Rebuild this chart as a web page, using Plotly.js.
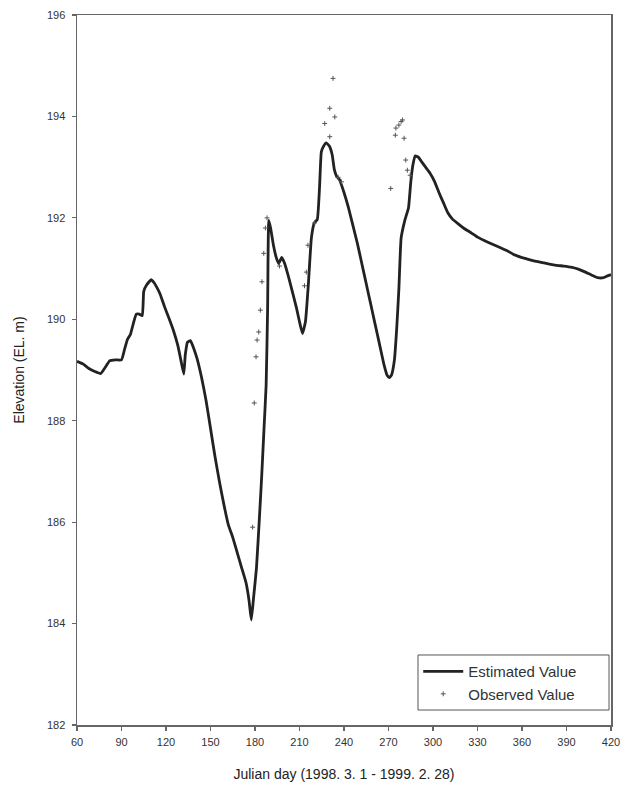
<!DOCTYPE html>
<html>
<head>
<meta charset="utf-8">
<script src="https://cdn.plot.ly/plotly-3.0.1.min.js"></script>
<style>
  html, body { margin: 0; padding: 0; background: #fff; }
  #chart { width: 627px; height: 786px; }
</style>
</head>
<body>
<div id="chart"></div>
<script>
// Reservoir water level, 1998-03-01 to 1999-02-28 (Julian day)
const estDays = [60, 64, 68, 72, 76, 79, 82, 86, 90, 92, 94, 96, 98, 100, 102, 104, 105, 107, 110, 112,
  114, 116, 119, 122, 125, 128, 130, 132, 133, 134.5, 136.5, 139, 141, 144, 147, 150, 153, 156, 159, 162,
  165, 168, 171, 174, 176, 177.5, 179, 181, 183, 184.5, 186, 187.5, 188.5, 189.3, 190.5, 192.5, 194.5, 196, 198, 200,
  202, 204, 206, 208, 210, 212, 214, 216, 218, 220, 222, 223.5, 224.7, 226, 228, 230, 232, 233.5, 235, 237,
  240, 243, 246, 249, 252, 255, 258, 261, 264, 267, 269, 270.5, 272, 274, 275.5, 277, 278.5, 281, 283.5, 285,
  286.5, 288, 290, 292, 295, 298, 301, 304, 307, 310, 313, 317, 321, 326, 330, 337, 344, 350, 355, 362,
  368, 375, 382, 388, 393, 398, 402, 407, 411, 415, 418, 420];
const estElev = [189.17, 189.12, 189.03, 188.97, 188.93, 189.05, 189.18, 189.2, 189.2, 189.4, 189.6, 189.7, 189.92, 190.1, 190.1, 190.07, 190.55, 190.68, 190.78, 190.72,
  190.62, 190.5, 190.25, 190.02, 189.78, 189.48, 189.2, 188.92, 189.3, 189.55, 189.58, 189.4, 189.22, 188.85, 188.4, 187.85, 187.3, 186.8, 186.35, 185.95,
  185.7, 185.4, 185.1, 184.8, 184.45, 184.07, 184.5, 185.1, 186.1, 186.9, 187.8, 188.7, 190.2, 191.95, 191.8, 191.45, 191.2, 191.1, 191.22, 191.1,
  190.9, 190.68, 190.45, 190.22, 189.95, 189.72, 189.95, 190.7, 191.6, 191.9, 191.97, 192.6, 193.3, 193.4, 193.48, 193.42, 193.25, 192.95, 192.82, 192.75,
  192.5, 192.2, 191.85, 191.5, 191.1, 190.7, 190.3, 189.9, 189.5, 189.1, 188.9, 188.85, 188.9, 189.2, 189.8, 190.6, 191.6, 191.95, 192.2, 192.7,
  193.05, 193.22, 193.2, 193.12, 193.0, 192.88, 192.72, 192.5, 192.3, 192.1, 191.98, 191.88, 191.79, 191.7, 191.62, 191.52, 191.43, 191.35, 191.27, 191.2,
  191.15, 191.11, 191.07, 191.05, 191.03, 190.99, 190.94, 190.87, 190.82, 190.82, 190.86, 190.88];

const obsDays = [178.4, 179.5, 180.7, 181.4, 182.5, 183.6, 184.7, 185.9, 187, 188.1, 196.5,
  213.4, 214.6, 215.7, 220.2, 227, 230.4, 230.4, 232.6, 233.8, 236, 238.3,
  271.5, 274.6, 275, 277, 278.5, 279.5, 280.5, 281.6, 282.7, 284.6];
const obsElev = [185.9, 188.35, 189.26, 189.59, 189.75, 190.18, 190.74, 191.3, 191.8, 192.0, 191.05,
  190.66, 190.93, 191.46, 191.9, 193.86, 193.6, 194.16, 194.75, 193.99, 192.8, 192.71,
  192.58, 193.63, 193.77, 193.83, 193.9, 193.93, 193.57, 193.14, 192.94, 192.84];

const xTicks = [60, 90, 120, 150, 180, 210, 240, 270, 300, 330, 360, 390, 420];
const yTicks = [182, 184, 186, 188, 190, 192, 194, 196];

const fam = 'Arial, "Liberation Sans", sans-serif';
const axisFont = { family: fam, size: 11, color: '#333' };
const titleFont = { family: fam, size: 14, color: '#222' };

const traces = [
  {
    x: estDays, y: estElev, type: 'scatter', mode: 'lines', name: 'Estimated Value',
    line: { color: '#222', width: 2.8, shape: 'spline', smoothing: 0.4 }
  },
  {
    x: obsDays, y: obsElev, type: 'scatter', mode: 'markers', name: 'Observed Value',
    marker: { symbol: 'cross-thin', size: 3.5, line: { color: '#555', width: 1 }, color: '#555' }
  }
];

const layout = {
  width: 627, height: 786,
  margin: { l: 77, r: 16, t: 15, b: 61 },
  paper_bgcolor: '#fff', plot_bgcolor: '#fff',
  showlegend: true,
  legend: {
    x: 0.639, y: 0.021, xanchor: 'left', yanchor: 'bottom',
    bgcolor: 'rgba(0,0,0,0)', borderwidth: 0,
    font: { family: fam, size: 15, color: '#333' },
    tracegroupgap: 0, itemwidth: 40
  },
  // framed box behind the legend entries
  shapes: [{
    type: 'rect', xref: 'paper', yref: 'paper',
    x0: 0.6386, x1: 0.9963, y0: 0.0211, y1: 0.0986,
    line: { color: '#555', width: 1 }, fillcolor: '#fff', layer: 'above'
  }],
  xaxis: {
    range: [60, 420], tickvals: xTicks, ticktext: xTicks.map(String),
    showgrid: false, zeroline: false,
    showline: true, linecolor: '#666', linewidth: 1.5, mirror: true,
    ticks: 'outside', ticklen: 4, tickcolor: '#666', tickwidth: 1.2,
    ticklabelstandoff: 2,
    tickfont: axisFont,
    title: { text: 'Julian day (1998. 3. 1 - 1999. 2. 28)', font: titleFont, standoff: 22 }
  },
  yaxis: {
    range: [182, 196], tickvals: yTicks, ticktext: yTicks.map(String),
    showgrid: false, zeroline: false,
    showline: true, linecolor: '#666', linewidth: 1.5, mirror: true,
    ticks: 'outside', ticklen: 4, tickcolor: '#666', tickwidth: 1.2,
    ticklabelstandoff: 4,
    tickfont: axisFont,
    title: { text: 'Elevation (EL. m)', font: titleFont, standoff: 19 }
  }
};

Plotly.newPlot('chart', traces, layout, { staticPlot: true, displayModeBar: false });
</script>
</body>
</html>
